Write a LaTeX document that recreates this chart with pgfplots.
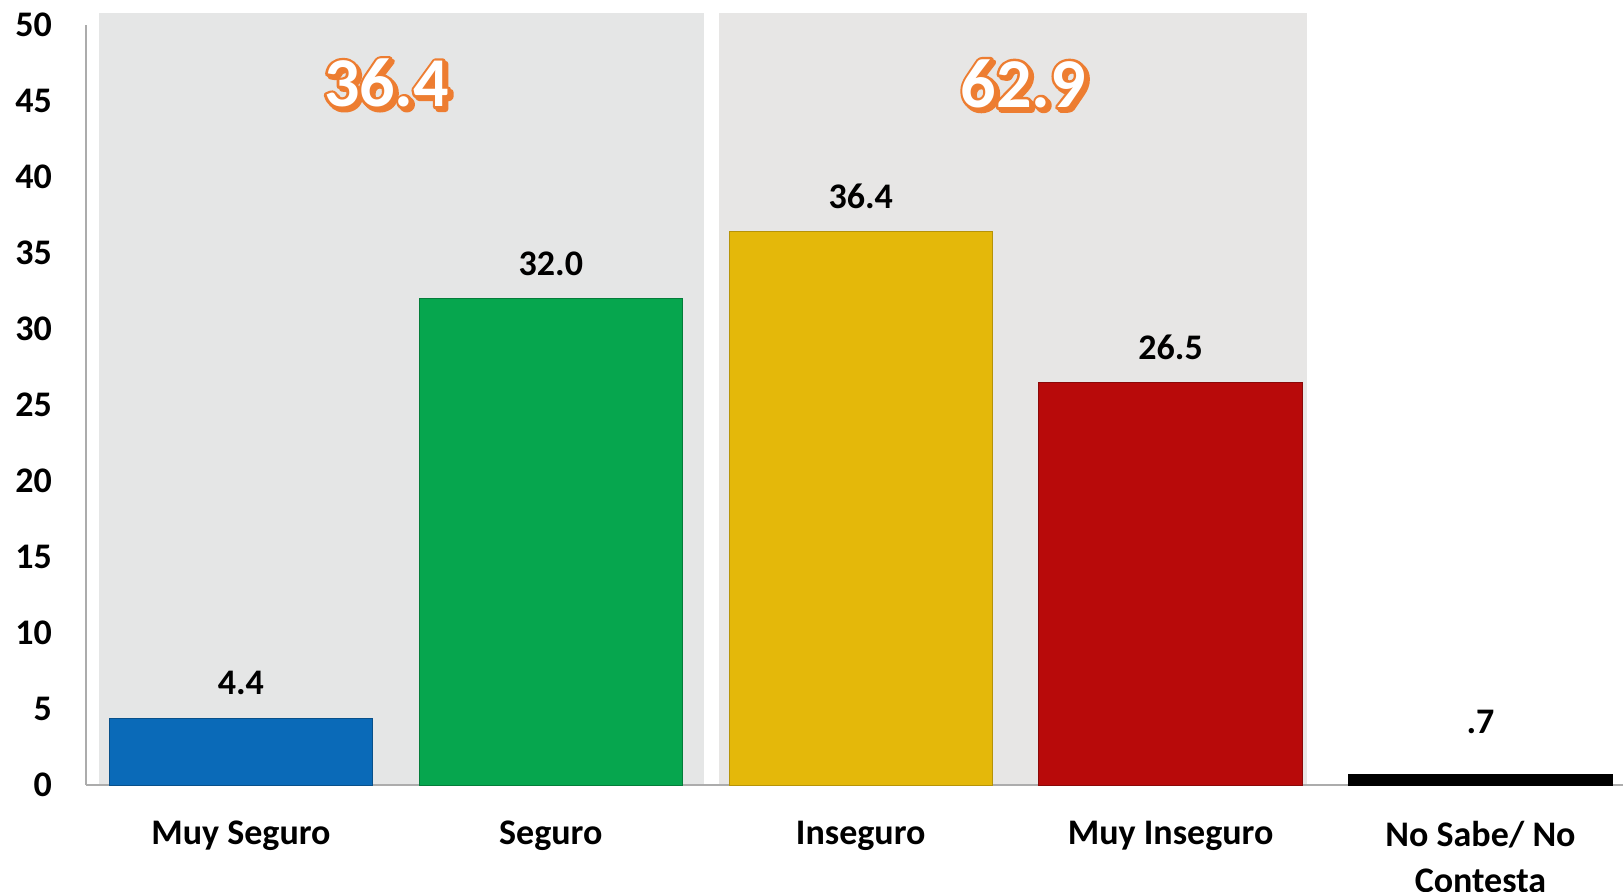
\documentclass[border=0pt]{standalone}
\usepackage{fontspec}
\setmainfont{Carlito}
\usepackage{pgfplots}
\pgfplotsset{compat=1.18}
\definecolor{panelA}{RGB}{229,230,230}
\definecolor{panelB}{RGB}{231,230,229}
\definecolor{barblue}{RGB}{10,106,184}
\definecolor{bargreen}{RGB}{6,166,78}
\definecolor{baryellow}{RGB}{228,184,10}
\definecolor{barred}{RGB}{184,10,10}
\definecolor{borange}{RGB}{237,125,49}
\newcommand\lab{\bfseries\fontsize{18}{23}\selectfont}
\newcommand\bigfont{\bfseries\fontsize{35}{40}\selectfont}
\newcommand\strk[1]{\special{pdf:literal direct 2 Tr 2.8 w 1 j 0.929 0.490 0.192 RG 0.929 0.490 0.192 rg}#1\special{pdf:literal direct 0 Tr}}
\newcommand\outl[1]{\rlap{\kern1.3pt\raisebox{-1.3pt}{\strk{#1}}}\rlap{\strk{#1}}\color{white}#1}
\begin{document}
\begin{tikzpicture}
\begin{axis}[
  set layers,
  at={(0,0)}, anchor=south west,
  scale only axis, width=768.5pt, height=380pt,
  xmin=-0.5, xmax=4.46, ymin=0, ymax=50,
  clip=false,
  axis lines*=left,
  axis line style={draw=gray!65, line width=1pt},
  ybar, bar width=0.85, bar shift=0pt,
  xtick={0,...,4},
  xticklabels={Muy Seguro,Seguro,Inseguro,Muy Inseguro,{No Sabe/ No\\Contesta}},
  ytick={0,5,...,50},
  major tick length=0pt,
  /pgf/number format/assume math mode=true,
  tick label style={font=\lab},
  xticklabel style={align=center, yshift=-14.5pt},
  yticklabel style={xshift=-13.5pt},
  nodes near coords, point meta=explicit symbolic,
  nodes near coords style={font=\lab, anchor=center, yshift=17.5pt, text=black},
]
\begin{pgfonlayer}{axis background}
\fill[panelA] (axis cs:-0.458,0) rectangle (axis cs:1.495,50.8);
\fill[panelB] (axis cs:1.542,0) rectangle (axis cs:3.441,50.8);
\end{pgfonlayer}
\addplot[fill=barblue, draw=barblue!75!black] coordinates {(0,4.4) [4.4]};
\addplot[fill=bargreen, draw=bargreen!75!black] coordinates {(1,32.0) [32.0]};
\addplot[fill=baryellow, draw=baryellow!80!black] coordinates {(2,36.4) [36.4]};
\addplot[fill=barred, draw=barred!75!black] coordinates {(3,26.5) [26.5]};
\addplot[fill=black, draw=black, nodes near coords style={yshift=8.5pt}] coordinates {(4,0.7) [.7]};
\coordinate (A) at (axis cs:0.47,46.1);
\coordinate (B) at (axis cs:2.525,46.05);
\end{axis}
\node[text=white, font=\bigfont] at (A) {\outl{36.4}};
\node[text=white, font=\bigfont] at (B) {\outl{62.9}};
\pgfresetboundingbox
\useasboundingbox (-43pt,-53.5pt) rectangle (768.5pt,392.5pt);
\end{tikzpicture}
\end{document}
